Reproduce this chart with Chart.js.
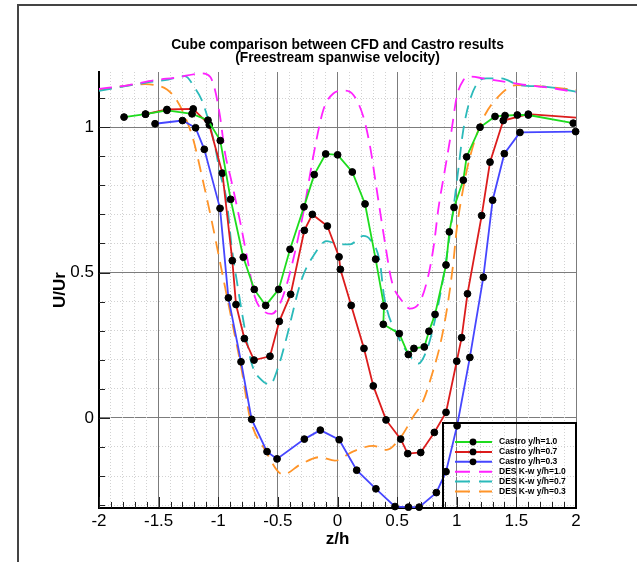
<!DOCTYPE html>
<html>
<head>
<meta charset="utf-8">
<script src="https://cdn.jsdelivr.net/npm/chart.js@4.4.0/dist/chart.umd.min.js"></script>
<style>
  html, body { margin: 0; padding: 0; background: #fff; }
  #wrap { position: relative; width: 637px; height: 562px; }
  #frame { position: absolute; left: 17px; top: 4px; right: 0; bottom: 0;
           border-left: 2px solid #444; border-top: 2px solid #444; pointer-events: none; }
</style>
</head>
<body>
<div id="wrap">
  <canvas id="chart" width="637" height="562"></canvas>
  <div id="frame"></div>
</div>
<script>
// tick labels
const xTicks = [-2, -1.5, -1, -0.5, 0, 0.5, 1, 1.5, 2];
const yTicks = [0, 0.5, 1];

// Castro experiment, y/h = 1.0
const castro10Z = [-1.79, -1.61, -1.43, -1.22, -1.086, -0.983, -0.896, -0.79, -0.698, -0.602, -0.493, -0.398, -0.281, -0.195, -0.099, 0.001, 0.124, 0.231, 0.32, 0.39, 0.384, 0.518, 0.594, 0.641, 0.728, 0.767, 0.818, 0.91, 0.938, 0.977, 1.055, 1.083, 1.195, 1.321, 1.405, 1.508, 1.6, 1.977];
const castro10U = [1.035, 1.045, 1.058, 1.046, 1.024, 0.954, 0.752, 0.553, 0.442, 0.387, 0.442, 0.58, 0.726, 0.837, 0.908, 0.905, 0.846, 0.736, 0.546, 0.385, 0.322, 0.29, 0.218, 0.239, 0.244, 0.298, 0.356, 0.526, 0.64, 0.724, 0.818, 0.898, 1.0, 1.037, 1.04, 1.042, 1.042, 1.014];

// Castro experiment, y/h = 0.7
const castro07Z = [-1.61, -1.43, -1.21, -1.075, -0.965, -0.882, -0.851, -0.781, -0.70, -0.566, -0.488, -0.393, -0.278, -0.211, -0.085, 0.013, 0.024, 0.115, 0.222, 0.30, 0.407, 0.53, 0.589, 0.698, 0.812, 0.91, 1.0, 1.041, 1.09, 1.209, 1.279, 1.39, 1.6, 2.1];
const castro07U = [1.045, 1.061, 1.063, 1.008, 0.842, 0.541, 0.39, 0.273, 0.199, 0.212, 0.332, 0.425, 0.645, 0.70, 0.66, 0.554, 0.511, 0.387, 0.239, 0.11, -0.007, -0.073, -0.123, -0.119, -0.05, 0.019, 0.195, 0.276, 0.427, 0.696, 0.88, 1.023, 1.045, 1.03];

// Castro experiment, y/h = 0.3
const castro03Z = [-1.53, -1.30, -1.19, -1.117, -0.985, -0.915, -0.809, -0.72, -0.591, -0.507, -0.278, -0.144, 0.014, 0.161, 0.322, 0.482, 0.595, 0.685, 0.829, 0.91, 1.003, 1.11, 1.223, 1.301, 1.399, 1.53, 1.997];
const castro03U = [1.012, 1.023, 0.998, 0.924, 0.721, 0.413, 0.193, -0.005, -0.116, -0.141, -0.073, -0.042, -0.075, -0.18, -0.244, -0.305, -0.307, -0.307, -0.257, -0.185, -0.027, 0.208, 0.484, 0.749, 0.909, 0.982, 0.985];

// DES K-w, y/h = 1.0
const des10Z = [-2.0, -1.75, -1.53, -1.335, -1.195, -1.139, -1.069, -1.027, -0.985, -0.943, -0.894, -0.818, -0.748, -0.692, -0.608, -0.552, -0.482, -0.413, -0.287, -0.203, -0.119, -0.035, 0.049, 0.133, 0.216, 0.273, 0.329, 0.398, 0.455, 0.538, 0.608, 0.692, 0.762, 0.81, 0.845, 0.901, 0.957, 1.0, 1.055, 1.111, 1.223, 1.53, 1.81, 2.0];
const des10U = [1.132, 1.145, 1.162, 1.172, 1.183, 1.185, 1.174, 1.128, 1.037, 0.911, 0.823, 0.678, 0.53, 0.415, 0.364, 0.358, 0.393, 0.477, 0.705, 0.9, 1.059, 1.116, 1.126, 1.111, 1.037, 0.934, 0.785, 0.603, 0.47, 0.404, 0.376, 0.40, 0.49, 0.60, 0.717, 0.854, 0.991, 1.105, 1.162, 1.174, 1.168, 1.148, 1.134, 1.12];

// DES K-w, y/h = 0.7
const des07Z = [-2.0, -1.614, -1.419, -1.279, -1.195, -1.139, -1.083, -1.027, -0.985, -0.929, -0.887, -0.845, -0.79, -0.72, -0.636, -0.566, -0.496, -0.44, -0.30, -0.203, -0.091, -0.035, 0.049, 0.105, 0.216, 0.273, 0.356, 0.39, 0.51, 0.594, 0.678, 0.748, 0.804, 0.888, 0.971, 1.013, 1.055, 1.111, 1.181, 1.251, 1.363, 1.53, 1.754, 2.0];
const des07U = [1.125, 1.153, 1.164, 1.176, 1.134, 1.094, 1.025, 0.934, 0.842, 0.747, 0.587, 0.473, 0.336, 0.187, 0.13, 0.115, 0.176, 0.256, 0.477, 0.557, 0.608, 0.603, 0.597, 0.597, 0.626, 0.614, 0.534, 0.42, 0.278, 0.222, 0.187, 0.233, 0.313, 0.484, 0.717, 0.854, 0.991, 1.094, 1.156, 1.168, 1.168, 1.145, 1.139, 1.122];

// DES K-w, y/h = 0.3
const des03Z = [-2.0, -1.614, -1.53, -1.43, -1.35, -1.279, -1.209, -1.139, -1.055, -0.971, -0.887, -0.803, -0.734, -0.608, -0.454, -0.314, -0.147, -0.021, 0.133, 0.30, 0.412, 0.524, 0.636, 0.72, 0.80, 0.86, 0.92, 0.97, 1.0, 1.05, 1.10, 1.21, 1.363, 1.503, 1.754, 2.0];
const des03U = [1.128, 1.148, 1.145, 1.13, 1.094, 1.037, 0.957, 0.835, 0.678, 0.507, 0.336, 0.164, 0.0, -0.11, -0.195, -0.161, -0.135, -0.147, -0.115, -0.096, -0.11, -0.07, 0.005, 0.06, 0.16, 0.25, 0.38, 0.53, 0.65, 0.78, 0.88, 1.02, 1.111, 1.145, 1.139, 1.128];

const pairs = (zs, us) => zs.map((z, i) => ({ x: z, y: us[i] }));

// minor grid positions every 0.1 (majors excluded)
const minorX = [], minorY = [];
for (let i = -20; i <= 20; i++) if (i % 5) minorX.push(i / 10);
for (let i = -3; i <= 11; i++) if (i % 5) minorY.push(i / 10);

Chart.defaults.font.family = "'Liberation Sans', Arial, sans-serif";
Chart.defaults.color = "#000";

const castro = (label, zs, us, color, clip) => ({
  label, data: pairs(zs, us),
  borderColor: color, backgroundColor: color,
  borderWidth: 1.8,
  pointRadius: 3.4, pointBackgroundColor: "#000", pointBorderColor: "#000", pointBorderWidth: 1,
  tension: 0, clip,
});
const des = (label, zs, us, color) => ({
  label, data: pairs(zs, us),
  borderColor: color, backgroundColor: color,
  borderWidth: 1.8, borderDash: [13, 8],
  pointRadius: 0, cubicInterpolationMode: "monotone",
});

// legend box in the lower right corner of the plot
const cornerLegend = {
  id: "cornerLegend",
  afterDraw(chart) {
    const { ctx, chartArea: a } = chart;
    const left = a.right - 133, top = a.bottom - 85;
    ctx.save();
    ctx.strokeStyle = "#000";
    ctx.lineWidth = 2;
    ctx.strokeRect(left, top, a.right - left, a.bottom - top);
    ctx.font = "bold 8.5px 'Liberation Sans', Arial, sans-serif";
    ctx.textBaseline = "middle";
    chart.data.datasets.forEach((ds, i) => {
      const y = top + 19 + i * 9.9;
      ctx.strokeStyle = ds.borderColor;
      ctx.lineWidth = 2;
      ctx.setLineDash(ds.borderDash ? [15, 9] : []);
      ctx.beginPath();
      ctx.moveTo(left + 12, y);
      ctx.lineTo(left + 49, y);
      ctx.stroke();
      ctx.setLineDash([]);
      if (ds.pointRadius) {
        ctx.fillStyle = "#000";
        ctx.beginPath();
        ctx.arc(left + 30, y, 3.4, 0, Math.PI * 2);
        ctx.fill();
      }
      ctx.fillStyle = "#000";
      ctx.fillText(ds.label, left + 56, y);
    });
    ctx.restore();
  },
};

// short inward tick marks on the bottom and left axes
const innerTicks = {
  id: "innerTicks",
  beforeDatasetsDraw(chart) {
    const { ctx, chartArea: a, scales: { x, y } } = chart;
    ctx.save();
    ctx.strokeStyle = "#222";
    ctx.lineWidth = 1;
    ctx.beginPath();
    const onX = (vals, len) => vals.forEach(v => {
      const p = Math.round(x.getPixelForValue(v)) + 0.5;
      ctx.moveTo(p, a.bottom); ctx.lineTo(p, a.bottom - len);
    });
    const onY = (vals, len) => vals.forEach(v => {
      const p = Math.round(y.getPixelForValue(v)) + 0.5;
      ctx.moveTo(a.left, p); ctx.lineTo(a.left + len, p);
    });
    onX(minorX, 6); onX(xTicks, 11);
    onY(minorY, 6); onY(yTicks, 11);
    ctx.stroke();
    ctx.restore();
  },
};

new Chart(document.getElementById("chart"), {
  type: "line",
  data: {
    datasets: [
      castro("Castro y/h=1.0", castro10Z, castro10U, "#1edc1e"),
      castro("Castro y/h=0.7", castro07Z, castro07U, "#dc1c1c", { left: 0, right: 0, top: 0, bottom: 0 }),
      castro("Castro y/h=0.3", castro03Z, castro03U, "#4646ff", { left: 0, right: 4, top: 0, bottom: 4 }),
      des("DES K-w y/h=1.0", des10Z, des10U, "#ff22ff"),
      des("DES K-w y/h=0.7", des07Z, des07U, "#2bbaba"),
      des("DES K-w y/h=0.3", des03Z, des03U, "#ff9428"),
    ],
  },
  options: {
    responsive: false,
    animation: false,
    devicePixelRatio: 1,
    layout: { padding: { left: 0, right: 61, top: 0, bottom: 0 } },
    plugins: { legend: { display: false }, tooltip: { enabled: false }, title: { display: false } },
    scales: {
      x: {
        type: "linear", position: "bottom", min: -2, max: 2,
        afterBuildTicks: s => { s.ticks = xTicks.map(v => ({ value: v })); },
        afterFit: s => { s.height = 54; },
        ticks: { font: { size: 17 }, padding: 3, callback: v => String(v) },
        grid: { color: "#7c7c7c", lineWidth: 1, drawTicks: false },
        border: { display: true, color: "#000", width: 2 },
        title: { display: true, text: "z/h", font: { size: 17, weight: "bold" }, padding: { top: 0, bottom: 12 } },
      },
      y: {
        type: "linear", position: "left", min: -0.31, max: 1.19,
        afterBuildTicks: s => { s.ticks = yTicks.map(v => ({ value: v })); },
        afterFit: s => { s.width = 99; },
        ticks: { font: { size: 17 }, padding: 5, callback: v => String(v) },
        grid: { color: "#7c7c7c", lineWidth: 1, drawTicks: false },
        border: { display: true, color: "#000", width: 2 },
        title: { display: true, text: "U/Ur", font: { size: 17, weight: "bold" }, padding: { top: 50, bottom: 0 } },
      },
      xTop: {
        type: "linear", position: "top", min: -2, max: 2,
        afterBuildTicks: s => { s.ticks = minorX.map(v => ({ value: v })); },
        afterFit: s => { s.height = 72; },
        ticks: { display: false },
        grid: { color: "#d2d2d2", lineWidth: 1, drawTicks: false },
        border: { display: false, dash: [1, 2] },
        title: {
          display: true,
          text: ["Cube comparison between CFD and Castro results", "(Freestream spanwise velocity)"],
          font: { size: 13.8, weight: "bold", lineHeight: "12.5px" },
          padding: { top: 39, bottom: 0 },
        },
      },
      yMinor: {
        type: "linear", position: "right", min: -0.31, max: 1.19,
        afterBuildTicks: s => { s.ticks = minorY.map(v => ({ value: v })); },
        afterFit: s => { s.width = 0; },
        ticks: { display: false },
        grid: { color: "#d2d2d2", lineWidth: 1, drawTicks: false },
        border: { display: false, dash: [1, 2] },
      },
    },
  },
  plugins: [innerTicks, cornerLegend],
});
</script>
</body>
</html>
